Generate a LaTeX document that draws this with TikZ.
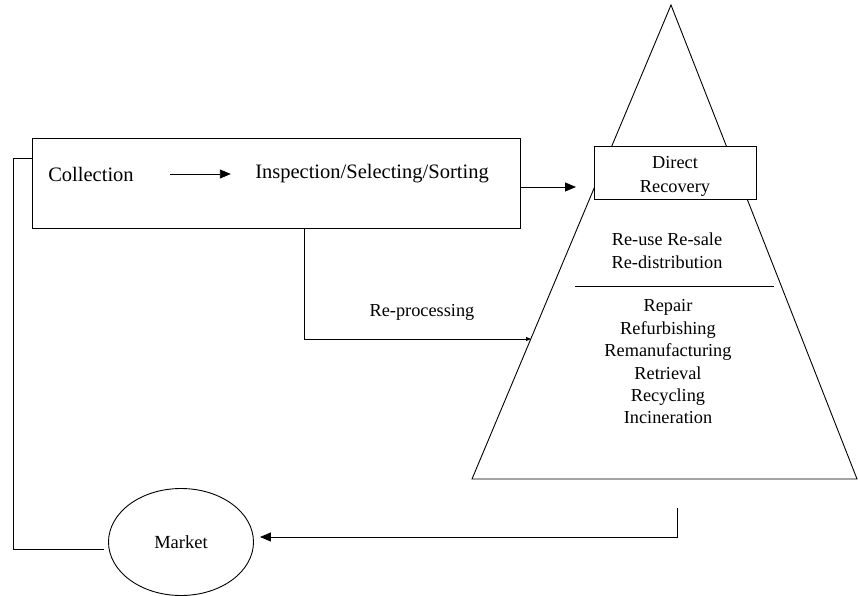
\documentclass[tikz,border=0pt]{standalone}
\usepackage{fontspec}
\setmainfont{Liberation Serif}
\usetikzlibrary{arrows.meta,shapes.geometric}

\begin{document}
\begin{tikzpicture}[x=1pt, y=-1pt, line width=0.9pt,
    arr/.style={-{Triangle[length=11pt,width=9pt]}},
    smallarr/.style={-{Triangle[length=5pt,width=4pt]}},
    boxtext/.style={inner sep=0pt, font=\fontsize{20.5}{24}\selectfont},
    tritext/.style={inner sep=0pt, align=center, font=\fontsize{18.3}{23}\selectfont}]
      \useasboundingbox (0,0) rectangle (858,596);
      \def\lx{13}   % left return line
      \def\rx{677}  % right return line
      %
      \node[draw, minimum width=488, minimum height=90, anchor=north west] (mainbox) at (32,138) {};   % collection box
      \node[boxtext] (collection) at (91,174) {Collection};
      \node[boxtext] (inspection) at (372,174) {Inspection/Selecting/Sorting};
      \draw[arr, shorten <=36pt, shorten >=24pt] (collection.east) -- (inspection.west);
      %
      \coordinate (apex) at (671,5);
      \coordinate (bleft) at (472,479);
      \coordinate (bright) at (857,479);
      \draw (apex) -- (bleft) -- (bright) -- cycle;   % pyramid
      %
      \node[draw, fill=white, minimum width=162, minimum height=53, anchor=north west] (direct) at (594,146) {};
      \node[tritext, font=\fontsize{18.3}{24}\selectfont] (directtext) at (675,176) {Direct\\Recovery};
      \coordinate (drtip) at (576,187);
      \draw[arr] (mainbox.east |- drtip) -- (drtip);
      %
      \node[tritext] (reuse) at (667,251) {Re-use Re-sale\\Re-distribution};
      \coordinate (divl) at (575,286);
      \coordinate (divr) at (774,286);
      \draw (divl) -- (divr);   % divider
      \node[tritext, font=\fontsize{18.3}{22.4}\selectfont] (methods) at (668,362)
        {Repair\\Refurbishing\\Remanufacturing\\Retrieval\\Recycling\\Incineration};
      %
      \coordinate (rpcorner) at (304,339);
      \coordinate (rptip) at (531,339);
      \draw[smallarr] (mainbox.south -| rpcorner) -- (rpcorner) -- (rptip);
      \node[tritext] (reproc) at (422,312) {Re-processing};
      %
      \node[draw, ellipse, minimum width=145, minimum height=107, inner sep=0pt,
            font=\fontsize{18.5}{22}\selectfont] (market) at (181,542) {Market};
      \coordinate (rettop) at (\rx,508);
      \coordinate (retcorner) at (\rx,537);
      \draw[arr, shorten >=6pt] (rettop) -- (retcorner) -- (retcorner -| market.east);
      %
      \coordinate (lbottom) at (\lx,549);
      \coordinate (ltop) at (\lx,158);
      \draw ([xshift=-4pt]market.west |- lbottom) -- (lbottom) -- (ltop) -- (mainbox.west |- ltop);
      %
\end{tikzpicture}
\end{document}
